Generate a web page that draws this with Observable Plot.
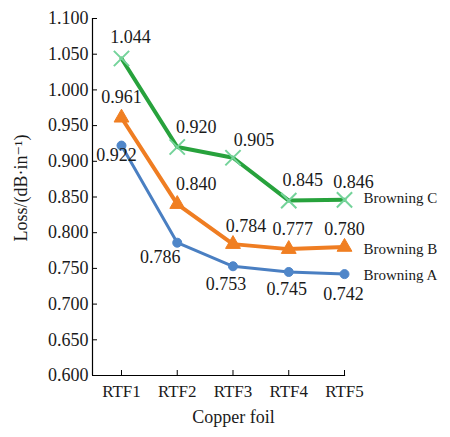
<!DOCTYPE html>
<html>
<head>
<meta charset="utf-8">
<script src="https://cdn.jsdelivr.net/npm/d3@7"></script>
<script src="https://cdn.jsdelivr.net/npm/@observablehq/plot@0.6"></script>
<style>
  html, body { margin: 0; padding: 0; background: #fff; }
  #chart svg, #chart svg text { font-family: "Liberation Serif", "DejaVu Serif", serif; }
</style>
</head>
<body>
<div id="chart"></div>
<script>
// Copper foil samples along the x axis
const foils = ["RTF1", "RTF2", "RTF3", "RTF4", "RTF5"];

// Insertion loss, dB/in, for each browning treatment
const browningA = [0.922, 0.786, 0.753, 0.745, 0.742];
const browningB = [0.961, 0.840, 0.784, 0.777, 0.780];
const browningC = [1.044, 0.920, 0.905, 0.845, 0.846];

const seriesNames = ["Browning A", "Browning B", "Browning C"];
const yTicks = [0.600, 0.650, 0.700, 0.750, 0.800, 0.850, 0.900, 0.950, 1.000, 1.050, 1.100];

const serif = "Liberation Serif, DejaVu Serif, serif";

// Pixel offsets of each value label from its point
const labelOffsets = {
  "Browning A": [[-5, 10], [-17, 15], [-7, 18], [-2, 17], [-1, 20]],
  "Browning B": [[0, -21], [19, -20], [13, -18], [4, -20], [0, -18]],
  "Browning C": [[9, -21], [19, -20], [21, -17], [14, -20], [9, -18]]
};

const styles = {
  "Browning A": {line: "#4a7fc2", marker: "#4f86c9", symbol: "circle", r: 4.5, fill: true, width: 3},
  "Browning B": {line: "#ef7d22", marker: "#f07f22", symbol: "triangle", r: 5.5, fill: true, width: 4},
  "Browning C": {line: "#27a23c", marker: "#74d39a", symbol: "times", r: 7, fill: false, width: 4}
};

const values = {"Browning A": browningA, "Browning B": browningB, "Browning C": browningC};
const rows = seriesNames.flatMap(s => values[s].map((v, i) => ({series: s, foil: foils[i], idx: i + 1, v})));

const marks = [];
// axis lines (left and bottom only)
marks.push(Plot.ruleX([0.48], {y1: 0.6, y2: 1.1, stroke: "#000", strokeWidth: 1.2}));
marks.push(Plot.ruleY([0.6], {x1: 0.48, x2: 5.02, stroke: "#000", strokeWidth: 1.2}));

for (const s of seriesNames) {
  const st = styles[s];
  const data = rows.filter(d => d.series === s);
  marks.push(Plot.line(data, {x: "idx", y: "v", stroke: st.line, strokeWidth: st.width}));
  marks.push(Plot.dot(data, {
    x: "idx", y: "v", symbol: st.symbol, r: st.r,
    fill: st.fill ? st.marker : "none",
    stroke: st.marker, strokeWidth: st.fill ? 1 : 2
  }));
  data.forEach((d, i) => {
    const [dx, dy] = labelOffsets[s][i];
    marks.push(Plot.text([d], {
      x: "idx", y: "v", text: d => d.v.toFixed(3), dx, dy,
      fontSize: 18, fontFamily: serif, fill: "#1a1a1a"
    }));
  });
  const last = data[data.length - 1];
  marks.push(Plot.text([last], {
    x: "idx", y: "v", text: d => d.series, textAnchor: "start",
    dx: 19, dy: s === "Browning C" ? -2 : s === "Browning B" ? 2 : 1,
    fontSize: 15, fontFamily: serif, fill: "#1a1a1a"
  }));
}

marks.push(Plot.axisY({
  ticks: yTicks, tickFormat: d3.format(".3f"), tickSize: -5, tickPadding: 9,
  fontSize: 18, fontFamily: serif, label: null, stroke: "#000", fill: "#1a1a1a"
}));
marks.push(Plot.axisX({
  ticks: [1, 2, 3, 4, 5], tickFormat: i => foils[i - 1], tickSize: -5, tickPadding: 14,
  fontSize: 17, fontFamily: serif, label: null, stroke: "#000", fill: "#1a1a1a"
}));
// axis titles
marks.push(Plot.text(["Loss/(dB·in⁻¹)"], {
  frameAnchor: "left", textAnchor: "middle", lineAnchor: "middle", rotate: -90,
  dx: -71, dy: -9, fontSize: 18, fontFamily: serif, fill: "#1a1a1a"
}));
marks.push(Plot.text(["Copper foil"], {
  frameAnchor: "bottom", textAnchor: "middle", lineAnchor: "middle",
  dx: 15, dy: 42, fontSize: 18, fontFamily: serif, fill: "#1a1a1a"
}));

const chart = Plot.plot({
  width: 450,
  height: 437,
  marginLeft: 92,
  marginRight: 106,
  marginTop: 18,
  marginBottom: 62,
  x: {type: "linear", domain: [0.48, 5]},
  y: {domain: [0.6, 1.1]},
  style: {fontFamily: serif, background: "#fff"},
  marks
});
document.getElementById("chart").appendChild(chart);
</script>
</body>
</html>
